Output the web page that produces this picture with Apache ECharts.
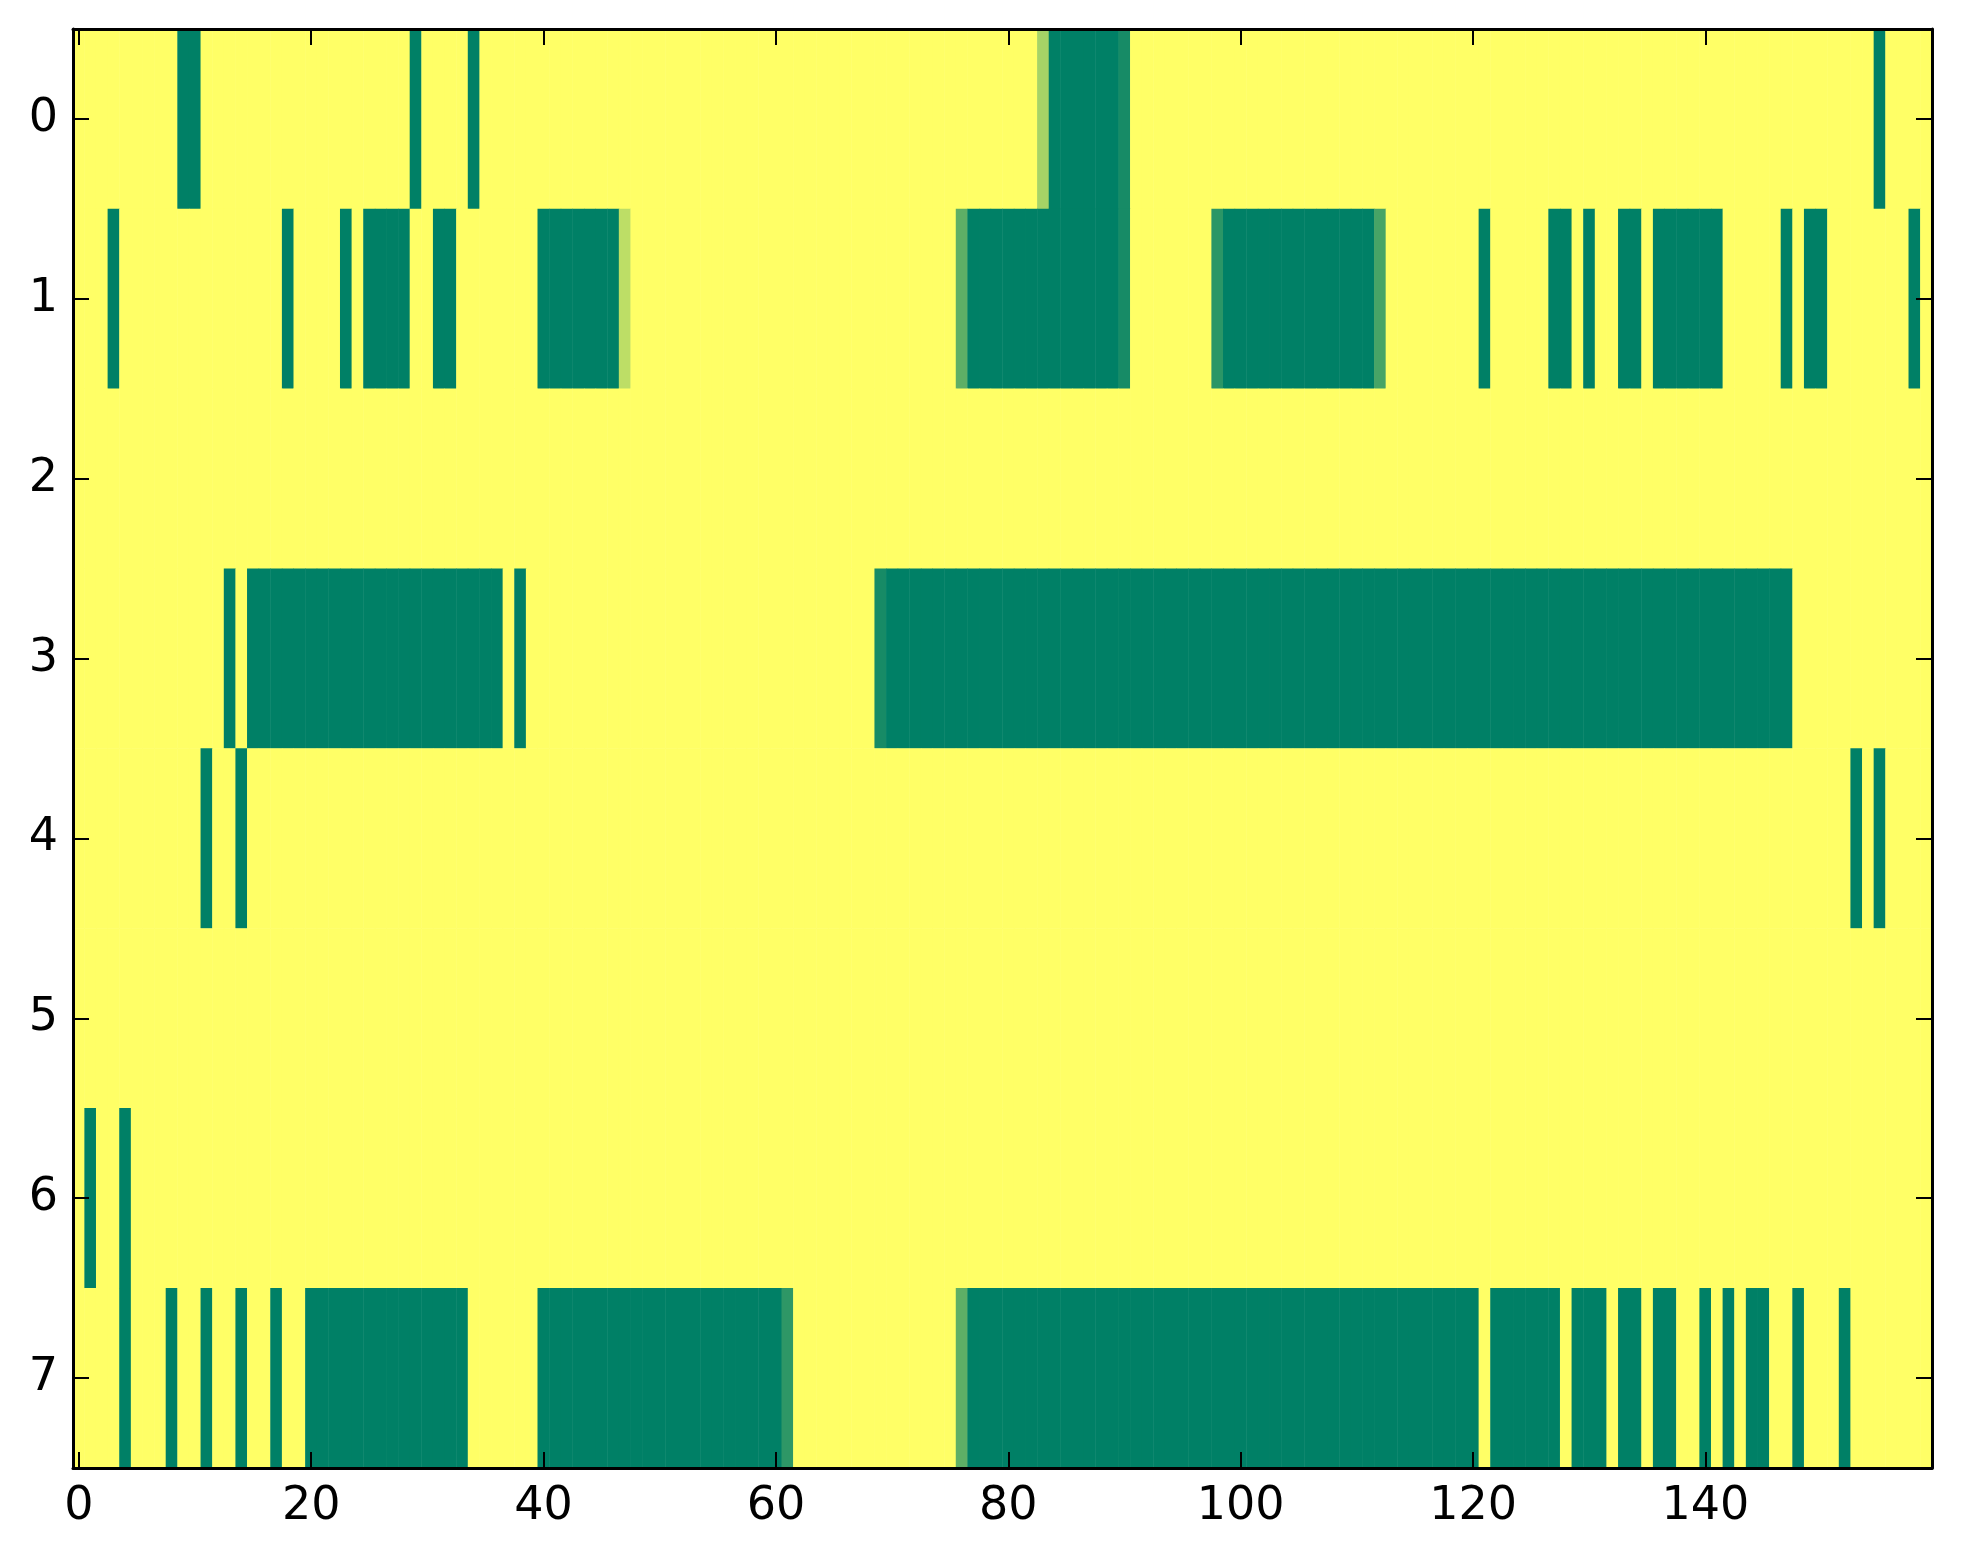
<!DOCTYPE html>
<html><head><meta charset="utf-8">
<script src="https://cdn.jsdelivr.net/npm/echarts@6/dist/echarts.min.js"></script>
<style>html,body{margin:0;padding:0;background:#fff}#c{width:1963px;height:1564px}</style>
</head><body><div id="c"></div>
<script>
// Column categories 0..159 and row categories 0..7
const columnCount = 160;
const xCategories = Array.from({length: columnCount}, (_, i) => String(i));
const yCategories = ['0', '1', '2', '3', '4', '5', '6', '7'];
const xTickLabels = ['0', '20', '40', '60', '80', '100', '120', '140'];

// Cell values (0 = green, 1 = yellow), 20 values per line
const row0 = [
  1,1,1,1,1,1,1,1,1,0, 0,1,1,1,1,1,1,1,1,1,
  1,1,1,1,1,1,1,1,1,0, 1,1,1,1,0,1,1,1,1,1,
  1,1,1,1,1,1,1,1,1,1, 1,1,1,1,1,1,1,1,1,1,
  1,1,1,1,1,1,1,1,1,1, 1,1,1,1,1,1,1,1,1,1,
  1,1,1,0.65,0,0,0,0,0,0, 0.09,1,1,1,1,1,1,1,1,1,
  1,1,1,1,1,1,1,1,1,1, 1,1,1,1,1,1,1,1,1,1,
  1,1,1,1,1,1,1,1,1,1, 1,1,1,1,1,1,1,1,1,1,
  1,1,1,1,1,1,1,1,1,1, 1,1,1,1,1,0,1,1,1,1
];
const row1 = [
  1,1,1,0,1,1,1,1,1,1, 1,1,1,1,1,1,1,1,0,1,
  1,1,1,0,1,0,0,0,0,1, 1,0,0,1,1,1,1,1,1,1,
  0,0,0,0,0,0,0,0.74,1,1, 1,1,1,1,1,1,1,1,1,1,
  1,1,1,1,1,1,1,1,1,1, 1,1,1,1,1,1,0.37,0,0,0,
  0,0,0,0,0,0,0,0,0,0, 0.09,1,1,1,1,1,1,1,0.17,0,
  0,0,0,0,0,0,0,0,0,0, 0,0,0.28,1,1,1,1,1,1,1,
  1,0,1,1,1,1,1,0,0,1, 0,1,1,0,0,1,0,0,0,0,
  0,0,1,1,1,1,1,0,1,0, 0,1,1,1,1,1,1,1,0,1
];
const row2 = [
  1,1,1,1,1,1,1,1,1,1, 1,1,1,1,1,1,1,1,1,1,
  1,1,1,1,1,1,1,1,1,1, 1,1,1,1,1,1,1,1,1,1,
  1,1,1,1,1,1,1,1,1,1, 1,1,1,1,1,1,1,1,1,1,
  1,1,1,1,1,1,1,1,1,1, 1,1,1,1,1,1,1,1,1,1,
  1,1,1,1,1,1,1,1,1,1, 1,1,1,1,1,1,1,1,1,1,
  1,1,1,1,1,1,1,1,1,1, 1,1,1,1,1,1,1,1,1,1,
  1,1,1,1,1,1,1,1,1,1, 1,1,1,1,1,1,1,1,1,1,
  1,1,1,1,1,1,1,1,1,1, 1,1,1,1,1,1,1,1,1,1
];
const row3 = [
  1,1,1,1,1,1,1,1,1,1, 1,1,1,0,1,0,0,0,0,0,
  0,0,0,0,0,0,0,0,0,0, 0,0,0,0,0,0,0,1,0,1,
  1,1,1,1,1,1,1,1,1,1, 1,1,1,1,1,1,1,1,1,1,
  1,1,1,1,1,1,1,1,1,0.09, 0,0,0,0,0,0,0,0,0,0,
  0,0,0,0,0,0,0,0,0,0, 0,0,0,0,0,0,0,0,0,0,
  0,0,0,0,0,0,0,0,0,0, 0,0,0,0,0,0,0,0,0,0,
  0,0,0,0,0,0,0,0,0,0, 0,0,0,0,0,0,0,0,0,0,
  0,0,0,0,0,0,0,0,1,1, 1,1,1,1,1,1,1,1,1,1
];
const row4 = [
  1,1,1,1,1,1,1,1,1,1, 1,0,1,1,0,1,1,1,1,1,
  1,1,1,1,1,1,1,1,1,1, 1,1,1,1,1,1,1,1,1,1,
  1,1,1,1,1,1,1,1,1,1, 1,1,1,1,1,1,1,1,1,1,
  1,1,1,1,1,1,1,1,1,1, 1,1,1,1,1,1,1,1,1,1,
  1,1,1,1,1,1,1,1,1,1, 1,1,1,1,1,1,1,1,1,1,
  1,1,1,1,1,1,1,1,1,1, 1,1,1,1,1,1,1,1,1,1,
  1,1,1,1,1,1,1,1,1,1, 1,1,1,1,1,1,1,1,1,1,
  1,1,1,1,1,1,1,1,1,1, 1,1,1,0,1,0,1,1,1,1
];
const row5 = [
  1,1,1,1,1,1,1,1,1,1, 1,1,1,1,1,1,1,1,1,1,
  1,1,1,1,1,1,1,1,1,1, 1,1,1,1,1,1,1,1,1,1,
  1,1,1,1,1,1,1,1,1,1, 1,1,1,1,1,1,1,1,1,1,
  1,1,1,1,1,1,1,1,1,1, 1,1,1,1,1,1,1,1,1,1,
  1,1,1,1,1,1,1,1,1,1, 1,1,1,1,1,1,1,1,1,1,
  1,1,1,1,1,1,1,1,1,1, 1,1,1,1,1,1,1,1,1,1,
  1,1,1,1,1,1,1,1,1,1, 1,1,1,1,1,1,1,1,1,1,
  1,1,1,1,1,1,1,1,1,1, 1,1,1,1,1,1,1,1,1,1
];
const row6 = [
  1,0,1,1,0,1,1,1,1,1, 1,1,1,1,1,1,1,1,1,1,
  1,1,1,1,1,1,1,1,1,1, 1,1,1,1,1,1,1,1,1,1,
  1,1,1,1,1,1,1,1,1,1, 1,1,1,1,1,1,1,1,1,1,
  1,1,1,1,1,1,1,1,1,1, 1,1,1,1,1,1,1,1,1,1,
  1,1,1,1,1,1,1,1,1,1, 1,1,1,1,1,1,1,1,1,1,
  1,1,1,1,1,1,1,1,1,1, 1,1,1,1,1,1,1,1,1,1,
  1,1,1,1,1,1,1,1,1,1, 1,1,1,1,1,1,1,1,1,1,
  1,1,1,1,1,1,1,1,1,1, 1,1,1,1,1,1,1,1,1,1
];
const row7 = [
  1,1,1,1,0,1,1,1,0,1, 1,0,1,1,0,1,1,0,1,1,
  0,0,0,0,0,0,0,0,0,0, 0,0,0,0,1,1,1,1,1,1,
  0,0,0,0,0,0,0,0,0,0, 0,0,0,0,0,0,0,0,0,0,
  0,0.18,1,1,1,1,1,1,1,1, 1,1,1,1,1,1,0.37,0,0,0,
  0,0,0,0,0,0,0,0,0,0, 0,0,0,0,0,0,0,0,0,0,
  0,0,0,0,0,0,0,0,0,0, 0,0,0,0,0,0,0,0,0,0,
  0,1,0,0,0,0,0,0,1,0, 0,0,1,0,0,1,0,0,1,1,
  0,1,0,1,0,0,1,1,0,1, 1,1,0,1,1,1,1,1,1,1
];
const rows = [row0, row1, row2, row3, row4, row5, row6, row7];

const cells = [];
rows.forEach((r, yi) => r.forEach((v, xi) => cells.push([xi, yi, v])));

const FONT = 'DejaVu Sans';
const tickStyle = { color: '#000', width: 2 };
const lineStyle = { color: '#000', width: 3 };
const showX = (idx, val) => xTickLabels.indexOf(String(val)) >= 0;

const chart = echarts.init(document.getElementById('c'), null, { renderer: 'canvas' });
chart.setOption({
  animation: false,
  backgroundColor: '#ffffff',
  grid: { left: 73, right: 31, top: 29, bottom: 96, containLabel: false },
  visualMap: {
    show: false, type: 'continuous', min: 0, max: 1, dimension: 2,
    inRange: { color: ['#008066', '#ffff66'] }
  },
  xAxis: [
    {
      type: 'category', data: xCategories, position: 'bottom', z: 10,
      axisLine: { show: true, lineStyle: lineStyle },
      axisTick: { show: true, inside: true, length: 16, alignWithLabel: true, interval: showX, lineStyle: tickStyle },
      axisLabel: { show: true, interval: showX, margin: 16, color: '#000', fontFamily: FONT, fontSize: 46 },
      splitLine: { show: false }
    },
    {
      type: 'category', data: xCategories, position: 'top', z: 10,
      axisLine: { show: true, lineStyle: lineStyle },
      axisTick: { show: true, inside: true, length: 16, alignWithLabel: true, interval: showX, lineStyle: tickStyle },
      axisLabel: { show: false },
      splitLine: { show: false }
    }
  ],
  yAxis: [
    {
      type: 'category', data: yCategories, inverse: true, position: 'left', z: 10,
      axisLine: { show: true, lineStyle: lineStyle },
      axisTick: { show: true, inside: true, length: 16, alignWithLabel: true, interval: 0, lineStyle: tickStyle },
      axisLabel: { show: true, interval: 0, margin: 15, color: '#000', fontFamily: FONT, fontSize: 46 },
      splitLine: { show: false }
    },
    {
      type: 'category', data: yCategories, inverse: true, position: 'right', z: 10,
      axisLine: { show: true, lineStyle: lineStyle },
      axisTick: { show: true, inside: true, length: 16, alignWithLabel: true, interval: 0, lineStyle: tickStyle },
      axisLabel: { show: false },
      splitLine: { show: false }
    }
  ],
  series: [{
    type: 'heatmap', xAxisIndex: 0, yAxisIndex: 0, data: cells,
    progressive: 0, itemStyle: { borderWidth: 0 }, emphasis: { disabled: true }
  }]
});
</script></body></html>
